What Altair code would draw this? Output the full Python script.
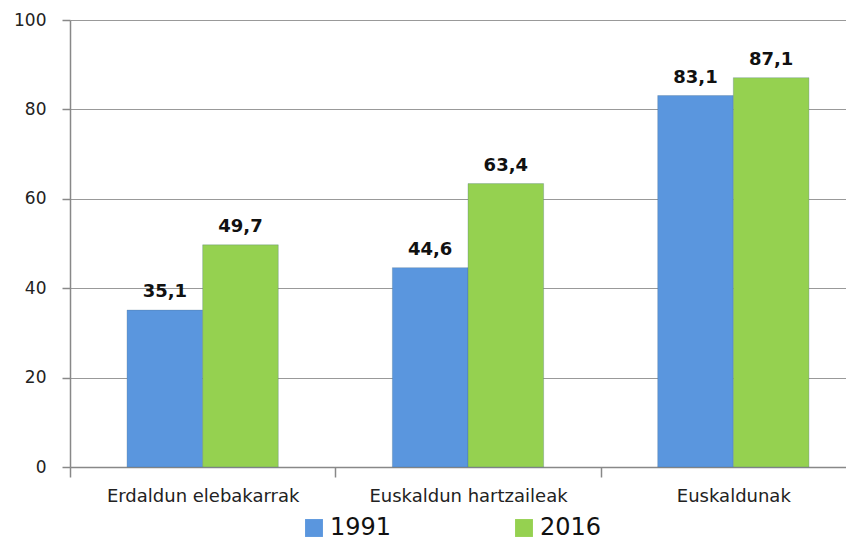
import altair as alt
import pandas as pd

categories = ["Erdaldun elebakarrak", "Euskaldun hartzaileak", "Euskaldunak"]
years = ["1991", "2016"]
values_1991 = [35.1, 44.6, 83.1]
values_2016 = [49.7, 63.4, 87.1]
colors = ["#5A96DE", "#95D150"]

rows = []
for c, v in zip(categories, values_1991):
    rows.append({"category": c, "year": "1991", "value": v})
for c, v in zip(categories, values_2016):
    rows.append({"category": c, "year": "2016", "value": v})
df = pd.DataFrame(rows)

font = "DejaVu Sans"

x = alt.X("category:N", sort=categories, title=None,
          scale=alt.Scale(paddingInner=0.43, paddingOuter=0.215, range=[0, 796]),
          axis=alt.Axis(labelAngle=0, labelFontSize=18, labelFont=font, labelColor="#222",
                        labelLimit=0, labelPadding=10, tickOffset=-132.6, labelOffset=132.6,
                        tickSize=10, tickColor="#888",
                        tickWidth=1.5, domainColor="#888", domainWidth=1.5, grid=False))
xo = alt.XOffset("year:N", sort=years, scale=alt.Scale(paddingInner=0, paddingOuter=0))

base = alt.Chart(df).encode(x=x, xOffset=xo)

bars = base.mark_bar(stroke="#4a6a8a", strokeWidth=0.6, strokeOpacity=0.5).encode(
    y=alt.Y("value:Q", title=None,
            scale=alt.Scale(domain=[0, 100]),
            axis=alt.Axis(values=[0, 20, 40, 60, 80, 100], labelFontSize=17, labelFont=font,
                          labelColor="#222", labelPadding=16, tickSize=8, tickColor="#888",
                          tickWidth=1.5, domainColor="#888", domainWidth=1.5,
                          gridColor="#999", gridWidth=1.2)),
    color=alt.Color("year:N", sort=years,
                    scale=alt.Scale(domain=years, range=colors),
                    legend=alt.Legend(title=None, orient="none", direction="horizontal",
                                      legendX=232, legendY=496, symbolType="square",
                                      symbolSize=320, symbolStrokeWidth=0, labelFontSize=24,
                                      labelFont=font, labelColor="#111", columnPadding=120,
                                      labelOffset=4)),
)

labels = base.transform_calculate(
    label="replace(format(datum.value, '.1f'), '.', ',')"
).mark_text(fontSize=18, fontWeight="bold", font=font, color="#111", baseline="alphabetic", dy=-13).encode(
    y="value:Q",
    text="label:N",
)

chart = alt.layer(bars, labels).properties(
    width=776, height=447,
    autosize=alt.AutoSizeParams(type="none"),
    padding={"left": 62, "top": 12, "right": 0, "bottom": 79},
).configure_view(stroke=None)

chart.save("out.html", embed_options={"renderer": "svg", "actions": False})
